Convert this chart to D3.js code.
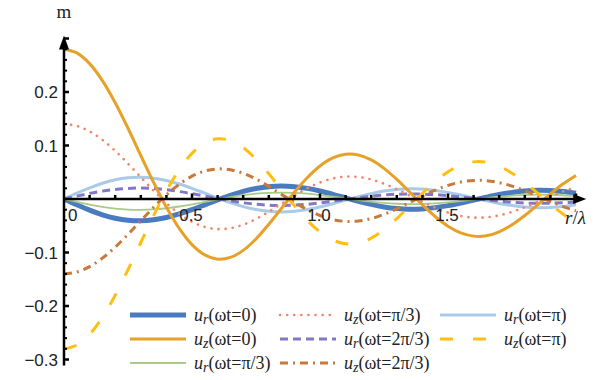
<!DOCTYPE html>
<html>
<head>
<meta charset="utf-8">
<script src="https://cdn.jsdelivr.net/npm/d3@7"></script>
<style>
  html, body { margin: 0; padding: 0; background: #fff; }
  svg { display: block; }
</style>
</head>
<body>
<svg id="chart" width="609" height="380"></svg>
<script>
// Radial position r/λ, sampled every 0.05
const rValues = [0, 0.05, 0.10, 0.15, 0.20, 0.25, 0.30, 0.35, 0.40, 0.45, 0.50, 0.55, 0.60, 0.65, 0.70, 0.75, 0.80, 0.85, 0.90, 0.95, 1.00,
  1.05, 1.10, 1.15, 1.20, 1.25, 1.30, 1.35, 1.40, 1.45, 1.50, 1.55, 1.60, 1.65, 1.70, 1.75, 1.80, 1.85, 1.90, 1.95, 2.00];

// Radial displacement u_r (m)
const urT0 = [0, -0.0109, -0.0209, -0.0295, -0.0359, -0.0397, -0.0407, -0.0389, -0.0346, -0.0280, -0.0199, -0.0109, -0.0018, 0.0068, 0.0142, 0.0197, 0.0231, 0.0242, 0.0230, 0.0198, 0.0149,
  0.0088, 0.0022, -0.0043, -0.0101, -0.0148, -0.0178, -0.0191, -0.0185, -0.0161, -0.0124, -0.0075, -0.0021, 0.0033, 0.0083, 0.0123, 0.0151, 0.0163, 0.0159, 0.0140, 0.0108];
const urT1 = [0, -0.0054, -0.0105, -0.0147, -0.0179, -0.0198, -0.0204, -0.0195, -0.0173, -0.0140, -0.0100, -0.0055, -0.0009, 0.0034, 0.0071, 0.0099, 0.0116, 0.0121, 0.0115, 0.0099, 0.0074,
  0.0044, 0.0011, -0.0022, -0.0051, -0.0074, -0.0089, -0.0095, -0.0092, -0.0081, -0.0062, -0.0038, -0.0011, 0.0017, 0.0042, 0.0062, 0.0075, 0.0081, 0.0079, 0.0070, 0.0054];
const urT2 = [0, 0.0054, 0.0105, 0.0147, 0.0179, 0.0198, 0.0204, 0.0195, 0.0173, 0.0140, 0.0100, 0.0055, 0.0009, -0.0034, -0.0071, -0.0099, -0.0116, -0.0121, -0.0115, -0.0099, -0.0074,
  -0.0044, -0.0011, 0.0022, 0.0051, 0.0074, 0.0089, 0.0095, 0.0092, 0.0081, 0.0062, 0.0038, 0.0011, -0.0017, -0.0042, -0.0062, -0.0075, -0.0081, -0.0079, -0.0070, -0.0054];
const urT3 = [0, 0.0109, 0.0209, 0.0295, 0.0359, 0.0397, 0.0407, 0.0389, 0.0346, 0.0280, 0.0199, 0.0109, 0.0018, -0.0068, -0.0142, -0.0197, -0.0231, -0.0242, -0.0230, -0.0198, -0.0149,
  -0.0088, -0.0022, 0.0043, 0.0101, 0.0148, 0.0178, 0.0191, 0.0185, 0.0161, 0.0124, 0.0075, 0.0021, -0.0033, -0.0083, -0.0123, -0.0151, -0.0163, -0.0159, -0.0140, -0.0108];

// Vertical displacement u_z (m)
const uzT0 = [0.2800, 0.2731, 0.2530, 0.2212, 0.1799, 0.1322, 0.0813, 0.0310, -0.0153, -0.0548, -0.0852, -0.1045, -0.1124, -0.1092, -0.0960, -0.0747, -0.0472, -0.0172, 0.0126, 0.0397, 0.0617,
  0.0767, 0.0837, 0.0823, 0.0731, 0.0573, 0.0366, 0.0131, -0.0107, -0.0327, -0.0508, -0.0634, -0.0694, -0.0687, -0.0613, -0.0482, -0.0308, -0.0109, 0.0094, 0.0284, 0.0441];
const uzT1 = [0.1400, 0.1366, 0.1265, 0.1106, 0.0900, 0.0661, 0.0407, 0.0155, -0.0077, -0.0274, -0.0426, -0.0522, -0.0562, -0.0546, -0.0480, -0.0374, -0.0236, -0.0086, 0.0063, 0.0198, 0.0308,
  0.0384, 0.0418, 0.0412, 0.0366, 0.0286, 0.0183, 0.0066, -0.0054, -0.0164, -0.0254, -0.0317, -0.0347, -0.0343, -0.0306, -0.0241, -0.0154, -0.0055, 0.0047, 0.0142, 0.0221];
const uzT2 = [-0.1400, -0.1366, -0.1265, -0.1106, -0.0900, -0.0661, -0.0407, -0.0155, 0.0077, 0.0274, 0.0426, 0.0522, 0.0562, 0.0546, 0.0480, 0.0374, 0.0236, 0.0086, -0.0063, -0.0198, -0.0308,
  -0.0384, -0.0418, -0.0412, -0.0366, -0.0286, -0.0183, -0.0066, 0.0054, 0.0164, 0.0254, 0.0317, 0.0347, 0.0343, 0.0306, 0.0241, 0.0154, 0.0055, -0.0047, -0.0142, -0.0221];
const uzT3 = [-0.2800, -0.2731, -0.2530, -0.2212, -0.1799, -0.1322, -0.0813, -0.0310, 0.0153, 0.0548, 0.0852, 0.1045, 0.1124, 0.1092, 0.0960, 0.0747, 0.0472, 0.0172, -0.0126, -0.0397, -0.0617,
  -0.0767, -0.0837, -0.0823, -0.0731, -0.0573, -0.0366, -0.0131, 0.0107, 0.0327, 0.0508, 0.0634, 0.0694, 0.0687, 0.0613, 0.0482, 0.0308, 0.0109, -0.0094, -0.0284, -0.0441];

// Axis tick labels
const xTickLabels = ["0", "0.5", "1.0", "1.5"];
const yTickLabels = ["0.2", "0.1", "\u22120.1", "\u22120.2", "\u22120.3"];
const xTickValues = [0, 0.5, 1.0, 1.5];
const yTickValues = [0.2, 0.1, -0.1, -0.2, -0.3];

// Series: legend text parts (base, subscript, argument)
const seriesNames = [
  ["u", "r", "(\u03c9t=0)"],
  ["u", "z", "(\u03c9t=0)"],
  ["u", "r", "(\u03c9t=\u03c0/3)"],
  ["u", "z", "(\u03c9t=\u03c0/3)"],
  ["u", "r", "(\u03c9t=2\u03c0/3)"],
  ["u", "z", "(\u03c9t=2\u03c0/3)"],
  ["u", "r", "(\u03c9t=\u03c0)"],
  ["u", "z", "(\u03c9t=\u03c0)"]
];
const seriesValues = [urT0, uzT0, urT1, uzT1, urT2, uzT2, urT3, uzT3];

const styles = [
  { color: "#4a7bbf", width: 5, dash: null, cap: "butt" },
  { color: "#e6a128", width: 3, dash: null, cap: "butt" },
  { color: "#a9cb86", width: 1.8, dash: null, cap: "butt" },
  { color: "#f4846c", width: 2.6, dash: "0.1,7", cap: "round" },
  { color: "#8478c6", width: 3, dash: "8,5", cap: "butt" },
  { color: "#c77a3c", width: 3, dash: "8,5,2,5", cap: "butt" },
  { color: "#a9cbe8", width: 3, dash: null, cap: "butt" },
  { color: "#ffbf10", width: 3, dash: "13,20", cap: "butt" }
];

const svg = d3.select("#chart");

const x = d3.scaleLinear().domain([0, 1]).range([64, 320]);
const y = d3.scaleLinear().domain([0, 0.1]).range([199, 145.5]);

// Curves (radial ones underneath, vertical on top)
const drawOrder = [6, 0, 2, 4, 1, 3, 5, 7];
const line = d3.line()
  .x((d, i) => x(rValues[i]))
  .y(d => y(d))
  .curve(d3.curveCatmullRom.alpha(0.5));

const curves = svg.append("g");
drawOrder.forEach(k => {
  const s = styles[k];
  curves.append("path")
    .datum(seriesValues[k])
    .attr("d", line)
    .attr("fill", "none")
    .attr("stroke", s.color)
    .attr("stroke-width", s.width)
    .attr("stroke-dasharray", s.dash)
    .attr("stroke-linecap", s.cap);
});

// Axes
const axes = svg.append("g");
const xEnd = 2.04, yTop = 0.302, yBottom = -0.311;

// x axis line + arrow
axes.append("line")
  .attr("x1", x(0)).attr("x2", x(xEnd) - 8)
  .attr("y1", y(0)).attr("y2", y(0))
  .attr("stroke", "#000").attr("stroke-width", 2.5);
axes.append("path")
  .attr("d", `M${x(xEnd)},${y(0)} L${x(xEnd) - 13},${y(0) - 5} L${x(xEnd) - 13},${y(0) + 5} Z`)
  .attr("fill", "#000");

// y axis line + arrow
axes.append("line")
  .attr("x1", x(0)).attr("x2", x(0))
  .attr("y1", y(yBottom)).attr("y2", y(yTop) + 8)
  .attr("stroke", "#000").attr("stroke-width", 2.5);
axes.append("path")
  .attr("d", `M${x(0)},${y(yTop) - 2} L${x(0) - 5},${y(yTop) + 12} L${x(0) + 5},${y(yTop) + 12} Z`)
  .attr("fill", "#000");

// x ticks: every 0.1, drawn above the axis
const xTicks = d3.range(1, 21).map(i => i / 10);
axes.selectAll(".xt").data(xTicks).enter().append("line")
  .attr("x1", d => x(d)).attr("x2", d => x(d))
  .attr("y1", y(0)).attr("y2", d => y(0) - (Math.abs(d * 2 - Math.round(d * 2)) < 1e-6 ? 5.5 : 4))
  .attr("stroke", "#000").attr("stroke-width", 2.5);

// y ticks: major 0.1, minor 0.02, drawn right of the axis
const yMinor = d3.range(-15, 16).map(i => i / 50).filter(v => Math.abs(v) > 1e-9);
axes.selectAll(".yt").data(yMinor).enter().append("line")
  .attr("x1", x(0)).attr("x2", d => x(0) + (Math.abs(d * 10 - Math.round(d * 10)) < 1e-6 ? 5 : 3))
  .attr("y1", d => y(d)).attr("y2", d => y(d))
  .attr("stroke", "#000").attr("stroke-width", d => (Math.abs(d * 10 - Math.round(d * 10)) < 1e-6 ? 2.5 : 2));

// Tick labels
const tickFont = "'Liberation Sans', Arial, sans-serif";
axes.selectAll(".xl").data(xTickValues).enter().append("text")
  .attr("x", (d, i) => i === 0 ? x(d) + 4 : x(d) - 1)
  .attr("y", y(0) + 22)
  .attr("text-anchor", (d, i) => i === 0 ? "start" : "middle")
  .attr("font-family", tickFont).attr("font-size", 17)
  .attr("fill", "#222")
  .text((d, i) => xTickLabels[i]);

axes.selectAll(".yl").data(yTickValues).enter().append("text")
  .attr("x", x(0) - 6)
  .attr("y", d => y(d) + 6)
  .attr("text-anchor", "end")
  .attr("font-family", tickFont).attr("font-size", 17)
  .attr("fill", "#222")
  .text((d, i) => yTickLabels[i]);

// Axis titles
const serif = "'Liberation Serif', 'Times New Roman', serif";
svg.append("text")
  .attr("x", x(0)).attr("y", 18)
  .attr("text-anchor", "middle")
  .attr("font-family", serif).attr("font-size", 19)
  .attr("fill", "#222")
  .text("m");

const rl = svg.append("text")
  .attr("x", 565).attr("y", 224)
  .attr("font-family", serif).attr("font-size", 19)
  .attr("font-style", "italic")
  .attr("fill", "#222");
rl.append("tspan").text("r");
rl.append("tspan").text("/").attr("font-style", "normal");
rl.append("tspan").text("\u03bb");

// Legend: three columns
const legendCols = [130, 280, 440];
const legendRows = [315, 339, 363];
const legendItems = seriesNames.map((n, i) => ({ name: n, style: styles[i], col: Math.floor(i / 3), row: i % 3 }));

const legend = svg.append("g");
legendItems.forEach(it => {
  const lx = legendCols[it.col], ly = legendRows[it.row];
  const s = it.style;
  legend.append("line")
    .attr("x1", lx).attr("x2", lx + 56)
    .attr("y1", ly).attr("y2", ly)
    .attr("stroke", s.color)
    .attr("stroke-width", s.width)
    .attr("stroke-dasharray", s.dash)
    .attr("stroke-linecap", s.cap);
  const t = legend.append("text")
    .attr("x", lx + 64).attr("y", ly + 6)
    .attr("font-family", serif).attr("font-size", 18)
    .attr("fill", "#222");
  t.append("tspan").text(it.name[0]).attr("font-style", "italic");
  t.append("tspan").text(it.name[1]).attr("font-style", "italic")
    .attr("font-size", 14).attr("dy", 3);
  t.append("tspan").text(it.name[2]).attr("dy", -3);
});
</script>
</body>
</html>
